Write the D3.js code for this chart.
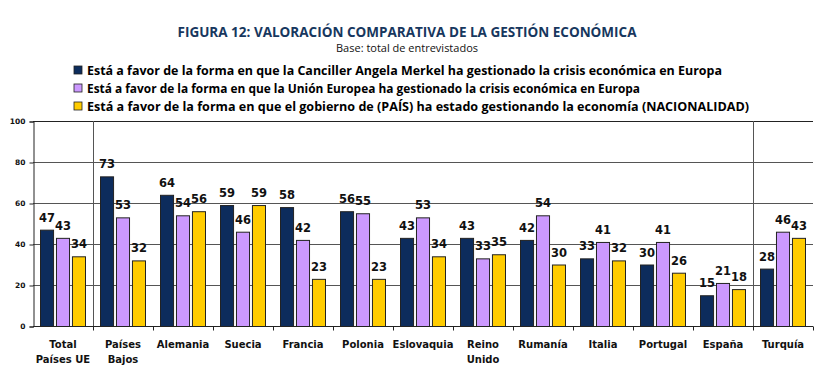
<!DOCTYPE html>
<html><head><meta charset="utf-8">
<script src="https://cdn.jsdelivr.net/npm/d3@7"></script>
<style>body{margin:0;background:#fff}</style>
</head><body>
<svg id="c" width="828" height="388"></svg>
<script>
const categories = ["Total\nPaíses UE","Países\nBajos","Alemania","Suecia","Francia","Polonia","Eslovaquia","Reino\nUnido","Rumanía","Italia","Portugal","España","Turquía"];
const merkel = [47,73,64,59,58,56,43,43,42,33,30,15,28];
const ue = [43,53,54,46,42,55,53,33,54,41,41,21,46];
const gobierno = [34,32,56,59,23,23,34,35,30,32,26,18,43];
const seriesNames = [
  "Está a favor de la forma en que la Canciller Angela Merkel ha gestionado la crisis económica en Europa",
  "Está a favor de la forma en que la Unión Europea ha gestionado la crisis económica en Europa",
  "Está a favor de la forma en que el gobierno de (PAÍS) ha estado gestionando la economía (NACIONALIDAD)"
];
const yTicks = [0,20,40,60,80,100];
const title = "FIGURA 12: VALORACIÓN COMPARATIVA DE LA GESTIÓN ECONÓMICA";
const subtitle = "Base: total de entrevistados";

const colors = ["#0d2c5c","#cc99ff","#ffcc00"];
const series = [merkel, ue, gobierno];
const svg = d3.select("#c");

const x = d3.scaleBand().domain(categories).range([33,813]).padding(0);
const y = d3.scaleLinear().domain([0,100]).range([326,121]);
const inner = d3.scaleBand().domain([0,1,2]).range([7,53]).paddingInner(0.12);

// title
svg.append("text").attr("x",407).attr("y",37).attr("text-anchor","middle")
  .attr("font-family","Open Sans").attr("font-weight","bold").attr("font-size",14)
  .attr("fill","#17375e").attr("textLength",459).attr("lengthAdjust","spacingAndGlyphs").text(title);
svg.append("text").attr("x",407).attr("y",52).attr("text-anchor","middle")
  .attr("font-family","Open Sans").attr("font-size",10.5)
  .attr("fill","#111").attr("textLength",142).attr("lengthAdjust","spacingAndGlyphs").text(subtitle);

// legend
const legW = [635,553,662];
seriesNames.forEach((n,i)=>{
  const ly = 70 + i*18;
  svg.append("rect").attr("x",74).attr("y",ly-4).attr("width",8).attr("height",8)
    .attr("fill",colors[i]).attr("stroke","#222").attr("stroke-width",0.8);
  svg.append("text").attr("x",87).attr("y",ly+4.5)
    .attr("font-family","Open Sans").attr("font-weight","bold").attr("font-size",12.5)
    .attr("fill","#000").attr("textLength",legW[i]).attr("lengthAdjust","spacingAndGlyphs").text(n);
});

// gridlines
svg.append("g").selectAll("line").data(yTicks.filter(t=>t>0)).join("line")
  .attr("x1",33).attr("x2",813).attr("y1",d=>y(d)+0.5).attr("y2",d=>y(d)+0.5)
  .attr("stroke",d=>d===100?"#222":"#555").attr("stroke-width",1);

// separators
[categories[1], categories[12]].forEach(c=>{
  svg.append("line").attr("x1",x(c)+0.5).attr("x2",x(c)+0.5).attr("y1",y(100)).attr("y2",y(0)+4)
    .attr("stroke","#555").attr("stroke-width",1);
});

// y axis
const yAxis = d3.axisLeft(y).tickValues(yTicks).tickSize(4).tickPadding(4);
const ga = svg.append("g").attr("transform","translate(33.5,0.5)").call(yAxis);
ga.select(".domain").attr("stroke","#222");
ga.selectAll(".tick line").attr("stroke","#222");
ga.selectAll(".tick text").attr("font-family","DejaVu Sans").attr("font-weight","bold").attr("font-size",7.5).attr("fill","#111");

// x axis
const gx = svg.append("g").attr("transform","translate(0,"+(y(0)+0.5)+")");
gx.append("line").attr("x1",33).attr("x2",813).attr("stroke","#222");
gx.selectAll(".tk").data(categories).join("line").attr("class","tk")
  .attr("x1",d=>x(d)+x.bandwidth()+0.5).attr("x2",d=>x(d)+x.bandwidth()+0.5).attr("y1",0).attr("y2",4).attr("stroke","#222");
gx.selectAll(".lb").data(categories).join("text").attr("class","lb")
  .attr("text-anchor","middle").attr("font-family","DejaVu Sans").attr("font-weight","bold").attr("font-size",10)
  .attr("fill","#111")
  .each(function(d){
    const t = d3.select(this);
    d.split("\n").forEach((s,k)=>{
      t.append("tspan").attr("x",x(d)+x.bandwidth()/2).attr("y",21+k*15).text(s);
    });
  });

// bars
series.forEach((vals,si)=>{
  const g = svg.append("g");
  g.selectAll("rect").data(vals).join("rect")
    .attr("x",(v,i)=>x(categories[i])+inner(si)+0.5)
    .attr("y",v=>y(v)+0.5)
    .attr("width",inner.bandwidth()-1)
    .attr("height",v=>y(0)-y(v))
    .attr("fill",colors[si]).attr("stroke","#222").attr("stroke-width",1);
  g.selectAll("text").data(vals).join("text")
    .attr("x",(v,i)=>x(categories[i])+inner(si)+inner.bandwidth()/2)
    .attr("y",v=>y(v)-8)
    .attr("text-anchor","middle").attr("font-family","DejaVu Sans").attr("font-weight","bold").attr("font-size",11.5)
    .attr("fill","#111").text(v=>v);
});
</script>
</body></html>
